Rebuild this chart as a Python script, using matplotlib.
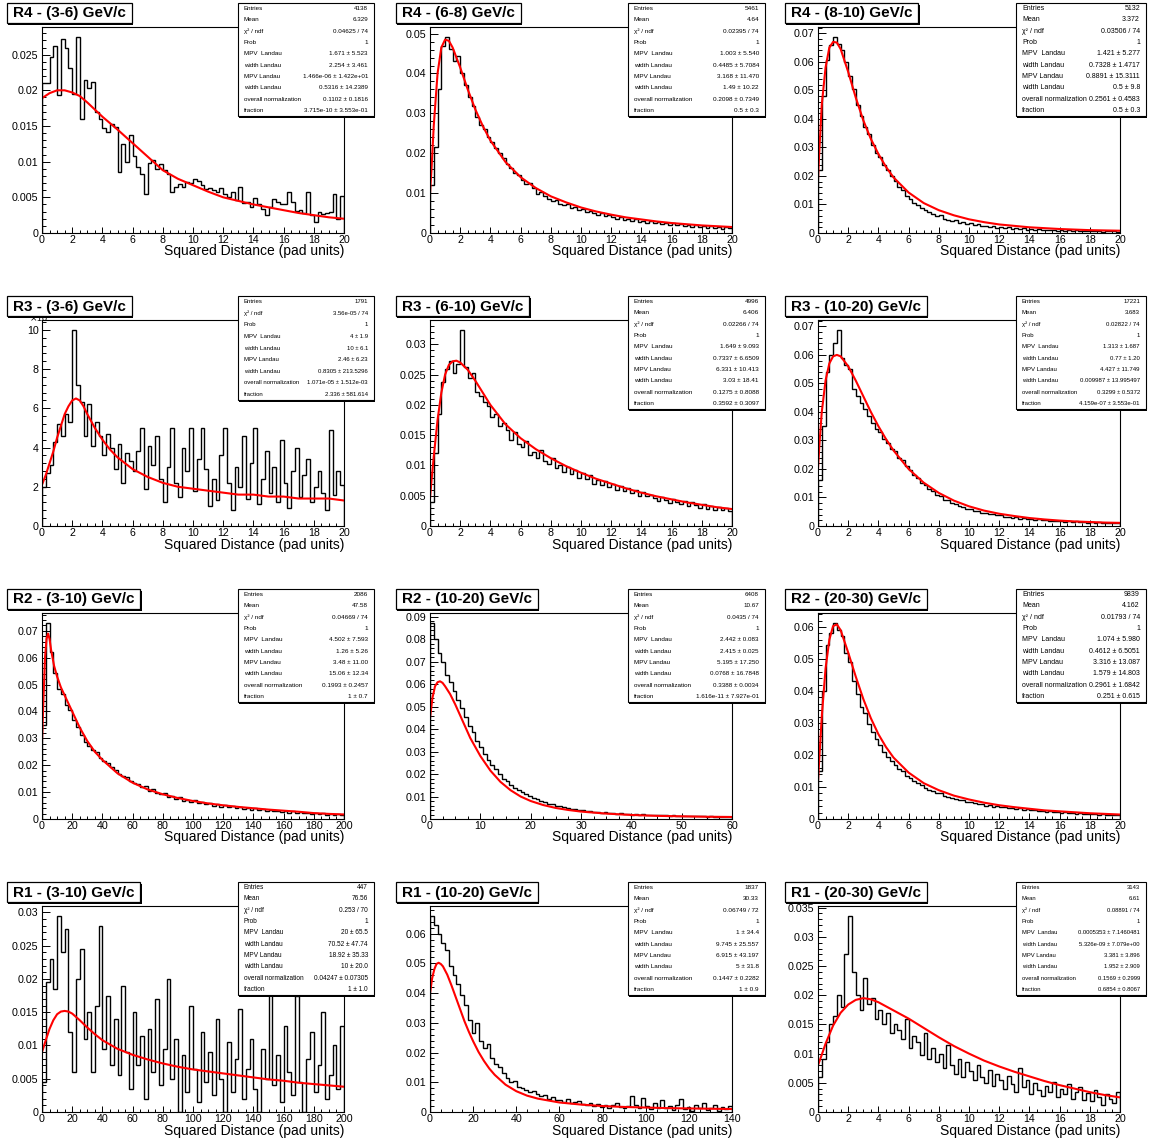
import matplotlib
matplotlib.use("Agg")
import matplotlib.pyplot as plt
import numpy as np
from matplotlib.patches import Rectangle
from matplotlib.ticker import MultipleLocator, FuncFormatter

plt.rcParams['font.family'] = ['Liberation Sans', 'DejaVu Sans']

W, H = 1151, 1140

# ---------------- histogram contents (80 bins per pad) ----------------
h_r4_3_6 = [0.0210, 0.0210, 0.0247, 0.0262, 0.0193, 0.0272, 0.0260, 0.0231, 0.0195, 0.0275,
            0.0160, 0.0214, 0.0203, 0.0212, 0.0170, 0.0160, 0.0147, 0.0141, 0.0153, 0.0148,
            0.0085, 0.0125, 0.0100, 0.0137, 0.0108, 0.0093, 0.0083, 0.0055, 0.0098, 0.0102,
            0.0090, 0.0097, 0.0088, 0.0082, 0.0058, 0.0065, 0.0068, 0.0064, 0.0072, 0.0070,
            0.0075, 0.0073, 0.0067, 0.0062, 0.0063, 0.0060, 0.0058, 0.0063, 0.0055, 0.0050,
            0.0058, 0.0046, 0.0064, 0.0042, 0.0044, 0.0036, 0.0049, 0.0040, 0.0034, 0.0025,
            0.0037, 0.0048, 0.0043, 0.0040, 0.0040, 0.0058, 0.0043, 0.0031, 0.0032, 0.0028,
            0.0058, 0.0025, 0.0015, 0.0030, 0.0026, 0.0028, 0.0029, 0.0055, 0.0020, 0.0052]

h_r4_6_8 = [0.0120, 0.0215, 0.0360, 0.0470, 0.0492, 0.0462, 0.0432, 0.0445, 0.0400, 0.0372,
            0.0342, 0.0318, 0.0292, 0.0272, 0.0262, 0.0240, 0.0228, 0.0212, 0.0200, 0.0188,
            0.0172, 0.0162, 0.0150, 0.0146, 0.0132, 0.0123, 0.0126, 0.0112, 0.0098, 0.0103,
            0.0094, 0.0086, 0.0081, 0.0084, 0.0072, 0.0070, 0.0073, 0.0062, 0.0066, 0.0058,
            0.0060, 0.0052, 0.0055, 0.0049, 0.0046, 0.0050, 0.0042, 0.0044, 0.0040, 0.0036,
            0.0039, 0.0033, 0.0036, 0.0030, 0.0034, 0.0028, 0.0031, 0.0026, 0.0029, 0.0024,
            0.0027, 0.0022, 0.0025, 0.0020, 0.0024, 0.0019, 0.0022, 0.0018, 0.0021, 0.0016,
            0.0019, 0.0015, 0.0018, 0.0013, 0.0017, 0.0012, 0.0016, 0.0011, 0.0014, 0.0012]

h_r4_8_10 = [0.0220, 0.0480, 0.0605, 0.0660, 0.0688, 0.0662, 0.0640, 0.0598, 0.0550, 0.0505,
             0.0450, 0.0412, 0.0372, 0.0348, 0.0310, 0.0282, 0.0268, 0.0238, 0.0222, 0.0200,
             0.0182, 0.0162, 0.0150, 0.0128, 0.0120, 0.0104, 0.0098, 0.0086, 0.0080, 0.0072,
             0.0066, 0.0058, 0.0062, 0.0050, 0.0047, 0.0042, 0.0046, 0.0036, 0.0038, 0.0032,
             0.0034, 0.0028, 0.0030, 0.0024, 0.0026, 0.0022, 0.0025, 0.0019, 0.0021, 0.0017,
             0.0020, 0.0015, 0.0018, 0.0014, 0.0016, 0.0012, 0.0015, 0.0011, 0.0013, 0.0010,
             0.0012, 0.0009, 0.0011, 0.0008, 0.0010, 0.0008, 0.0009, 0.0007, 0.0009, 0.0006,
             0.0008, 0.0007, 0.0008, 0.0006, 0.0007, 0.0005, 0.0007, 0.0006, 0.0006, 0.0005]

h_r3_3_6 = [0.0020, 0.0027, 0.0031, 0.0043, 0.0052, 0.0046, 0.0057, 0.0053, 0.0100, 0.0072,
            0.0063, 0.0046, 0.0062, 0.0041, 0.0053, 0.0046, 0.0036, 0.0047, 0.0040, 0.0029,
            0.0042, 0.0022, 0.0037, 0.0033, 0.0028, 0.0038, 0.0050, 0.0019, 0.0041, 0.0031,
            0.0046, 0.0024, 0.0012, 0.0030, 0.0050, 0.0022, 0.0015, 0.0040, 0.0028, 0.0050,
            0.0018, 0.0034, 0.0050, 0.0029, 0.0010, 0.0024, 0.0013, 0.0036, 0.0050, 0.0022,
            0.0008, 0.0030, 0.0020, 0.0046, 0.0014, 0.0032, 0.0050, 0.0011, 0.0024, 0.0038,
            0.0017, 0.0030, 0.0012, 0.0044, 0.0022, 0.0009, 0.0028, 0.0040, 0.0015, 0.0026,
            0.0034, 0.0012, 0.0020, 0.0028, 0.0017, 0.0008, 0.0049, 0.0016, 0.0028, 0.0021]

h_r3_6_10 = [0.0040, 0.0120, 0.0185, 0.0238, 0.0260, 0.0272, 0.0252, 0.0268, 0.0324, 0.0262,
             0.0245, 0.0252, 0.0222, 0.0215, 0.0205, 0.0198, 0.0180, 0.0185, 0.0165, 0.0170,
             0.0158, 0.0142, 0.0156, 0.0136, 0.0130, 0.0140, 0.0118, 0.0122, 0.0112, 0.0125,
             0.0108, 0.0102, 0.0112, 0.0095, 0.0100, 0.0090, 0.0098, 0.0086, 0.0092, 0.0080,
             0.0088, 0.0078, 0.0084, 0.0070, 0.0076, 0.0068, 0.0074, 0.0064, 0.0070, 0.0060,
             0.0066, 0.0058, 0.0062, 0.0054, 0.0060, 0.0050, 0.0056, 0.0049, 0.0052, 0.0046,
             0.0041, 0.0048, 0.0043, 0.0038, 0.0045, 0.0040, 0.0036, 0.0042, 0.0033, 0.0039,
             0.0035, 0.0030, 0.0036, 0.0028, 0.0033, 0.0026, 0.0031, 0.0027, 0.0029, 0.0024]

h_r3_10_20 = [0.0160, 0.0350, 0.0540, 0.0600, 0.0640, 0.0688, 0.0590, 0.0565, 0.0550, 0.0480,
              0.0455, 0.0430, 0.0410, 0.0385, 0.0362, 0.0340, 0.0330, 0.0305, 0.0292, 0.0270,
              0.0262, 0.0240, 0.0232, 0.0212, 0.0198, 0.0180, 0.0170, 0.0152, 0.0145, 0.0128,
              0.0122, 0.0108, 0.0104, 0.0092, 0.0090, 0.0080, 0.0078, 0.0070, 0.0068, 0.0061,
              0.0060, 0.0053, 0.0053, 0.0047, 0.0047, 0.0042, 0.0042, 0.0037, 0.0037, 0.0033,
              0.0033, 0.0029, 0.0030, 0.0026, 0.0027, 0.0024, 0.0025, 0.0022, 0.0023, 0.0020,
              0.0021, 0.0018, 0.0019, 0.0017, 0.0018, 0.0015, 0.0017, 0.0014, 0.0016, 0.0013,
              0.0015, 0.0012, 0.0014, 0.0011, 0.0013, 0.0011, 0.0012, 0.0010, 0.0011, 0.0009]

h_r2_3_10 = [0.0350, 0.0730, 0.0620, 0.0545, 0.0485, 0.0465, 0.0425, 0.0405, 0.0368, 0.0342,
             0.0312, 0.0285, 0.0272, 0.0258, 0.0250, 0.0228, 0.0215, 0.0208, 0.0192, 0.0182,
             0.0168, 0.0160, 0.0158, 0.0142, 0.0135, 0.0130, 0.0118, 0.0122, 0.0105, 0.0110,
             0.0098, 0.0092, 0.0096, 0.0082, 0.0085, 0.0075, 0.0080, 0.0068, 0.0072, 0.0064,
             0.0070, 0.0058, 0.0062, 0.0055, 0.0060, 0.0050, 0.0054, 0.0046, 0.0051, 0.0044,
             0.0048, 0.0040, 0.0045, 0.0038, 0.0042, 0.0034, 0.0040, 0.0032, 0.0036, 0.0030,
             0.0034, 0.0029, 0.0031, 0.0026, 0.0030, 0.0024, 0.0028, 0.0022, 0.0026, 0.0021,
             0.0024, 0.0019, 0.0023, 0.0018, 0.0021, 0.0016, 0.0019, 0.0015, 0.0017, 0.0014]

h_r2_10_20 = [0.0872, 0.0800, 0.0740, 0.0700, 0.0640, 0.0610, 0.0570, 0.0530, 0.0495, 0.0455,
              0.0415, 0.0385, 0.0345, 0.0318, 0.0290, 0.0262, 0.0238, 0.0222, 0.0200, 0.0180,
              0.0168, 0.0150, 0.0140, 0.0128, 0.0118, 0.0110, 0.0102, 0.0092, 0.0088, 0.0080,
              0.0075, 0.0068, 0.0066, 0.0060, 0.0058, 0.0052, 0.0050, 0.0046, 0.0045, 0.0040,
              0.0040, 0.0036, 0.0035, 0.0032, 0.0032, 0.0028, 0.0030, 0.0026, 0.0027, 0.0024,
              0.0025, 0.0022, 0.0024, 0.0020, 0.0022, 0.0019, 0.0021, 0.0018, 0.0019, 0.0017,
              0.0018, 0.0016, 0.0017, 0.0015, 0.0016, 0.0014, 0.0015, 0.0013, 0.0014, 0.0013,
              0.0013, 0.0012, 0.0013, 0.0011, 0.0012, 0.0010, 0.0011, 0.0010, 0.0010, 0.0009]

h_r2_20_30 = [0.0150, 0.0400, 0.0545, 0.0580, 0.0613, 0.0590, 0.0572, 0.0520, 0.0492, 0.0430,
              0.0392, 0.0350, 0.0330, 0.0298, 0.0272, 0.0250, 0.0232, 0.0210, 0.0195, 0.0180,
              0.0170, 0.0155, 0.0150, 0.0135, 0.0128, 0.0118, 0.0112, 0.0105, 0.0098, 0.0092,
              0.0088, 0.0082, 0.0080, 0.0072, 0.0070, 0.0066, 0.0064, 0.0058, 0.0060, 0.0054,
              0.0052, 0.0050, 0.0046, 0.0048, 0.0042, 0.0044, 0.0039, 0.0041, 0.0036, 0.0038,
              0.0034, 0.0035, 0.0031, 0.0033, 0.0028, 0.0030, 0.0027, 0.0028, 0.0024, 0.0026,
              0.0023, 0.0025, 0.0021, 0.0022, 0.0019, 0.0021, 0.0018, 0.0020, 0.0017, 0.0018,
              0.0016, 0.0017, 0.0015, 0.0016, 0.0014, 0.0015, 0.0013, 0.0014, 0.0012, 0.0013]

h_r1_3_10 = [0.0045, 0.0195, 0.0230, 0.0185, 0.0295, 0.0240, 0.0275, 0.0120, 0.0060, 0.0200,
             0.0245, 0.0110, 0.0150, 0.0060, 0.0160, 0.0280, 0.0095, 0.0175, 0.0070, 0.0140,
             0.0055, 0.0190, 0.0090, 0.0035, 0.0150, 0.0070, 0.0115, 0.0020, 0.0125, 0.0060,
             0.0170, 0.0040, 0.0095, 0.0200, 0.0050, 0.0110, 0.0000, 0.0085, 0.0030, 0.0160,
             0.0065, 0.0015, 0.0120, 0.0045, 0.0090, 0.0025, 0.0140, 0.0050, 0.0000, 0.0105,
             0.0030, 0.0080, 0.0155, 0.0020, 0.0065, 0.0110, 0.0035, 0.0000, 0.0095, 0.0050,
             0.0195, 0.0040, 0.0085, 0.0015, 0.0130, 0.0060, 0.0025, 0.0175, 0.0045, 0.0000,
             0.0080, 0.0120, 0.0030, 0.0070, 0.0150, 0.0020, 0.0055, 0.0100, 0.0035, 0.0130]

h_r1_10_20 = [0.0660, 0.0630, 0.0600, 0.0570, 0.0545, 0.0490, 0.0460, 0.0430, 0.0395, 0.0360,
              0.0310, 0.0265, 0.0300, 0.0240, 0.0215, 0.0230, 0.0180, 0.0160, 0.0150, 0.0130,
              0.0115, 0.0100, 0.0105, 0.0085, 0.0080, 0.0075, 0.0068, 0.0072, 0.0060, 0.0055,
              0.0058, 0.0045, 0.0050, 0.0040, 0.0042, 0.0035, 0.0044, 0.0030, 0.0032, 0.0038,
              0.0028, 0.0025, 0.0030, 0.0020, 0.0026, 0.0018, 0.0024, 0.0015, 0.0022, 0.0030,
              0.0018, 0.0012, 0.0020, 0.0055, 0.0025, 0.0015, 0.0048, 0.0020, 0.0010, 0.0030,
              0.0015, 0.0042, 0.0012, 0.0020, 0.0008, 0.0025, 0.0045, 0.0010, 0.0018, 0.0005,
              0.0022, 0.0012, 0.0030, 0.0008, 0.0015, 0.0025, 0.0005, 0.0018, 0.0010, 0.0020]

h_r1_20_30 = [0.0060, 0.0090, 0.0120, 0.0150, 0.0165, 0.0200, 0.0180, 0.0270, 0.0336, 0.0240,
              0.0200, 0.0175, 0.0230, 0.0185, 0.0195, 0.0160, 0.0175, 0.0150, 0.0170, 0.0135,
              0.0150, 0.0140, 0.0125, 0.0160, 0.0110, 0.0130, 0.0120, 0.0098, 0.0135, 0.0090,
              0.0110, 0.0085, 0.0100, 0.0075, 0.0115, 0.0080, 0.0065, 0.0090, 0.0060, 0.0085,
              0.0070, 0.0055, 0.0080, 0.0060, 0.0050, 0.0072, 0.0045, 0.0065, 0.0055, 0.0040,
              0.0062, 0.0048, 0.0035, 0.0075, 0.0042, 0.0055, 0.0030, 0.0050, 0.0038, 0.0028,
              0.0045, 0.0035, 0.0052, 0.0025, 0.0040, 0.0030, 0.0048, 0.0022, 0.0035, 0.0042,
              0.0020, 0.0032, 0.0018, 0.0038, 0.0025, 0.0012, 0.0030, 0.0022, 0.0015, 0.0035]

# ---------------- fitted curves (sampled points) ----------------
fx_r4_3_6 = [0, 0.5, 1, 1.5, 2, 2.5, 3, 3.5, 4, 5, 6, 7, 8, 9, 10, 11, 12, 13, 14, 15, 16, 17, 18, 19, 20]
fy_r4_3_6 = [0.0189, 0.0196, 0.0200, 0.0200, 0.0197, 0.0192, 0.0183, 0.0173, 0.0163, 0.0145, 0.0126,
             0.0107, 0.0088, 0.0076, 0.0067, 0.0058, 0.0050, 0.0045, 0.0040, 0.0036, 0.0032, 0.0028,
             0.0025, 0.0022, 0.0020]

fx_r4_6_8 = [0, 0.1, 0.25, 0.5, 0.75, 1.0, 1.25, 1.5, 2, 2.5, 3, 3.5, 4, 5, 6, 7, 8, 9, 10,
             11, 12, 13, 14, 15, 16, 17, 18, 19, 20]
fy_r4_6_8 = [0.0100, 0.0160, 0.0270, 0.0400, 0.0465, 0.0485, 0.0482, 0.0465, 0.0415, 0.0360, 0.0310,
             0.0268, 0.0232, 0.0178, 0.0140, 0.0113, 0.0092, 0.0077, 0.0064, 0.0054, 0.0046, 0.0039,
             0.0034, 0.0029, 0.0025, 0.0022, 0.0019, 0.0017, 0.0015]

fx_r4_8_10 = [0, 0.1, 0.25, 0.5, 0.75, 1.0, 1.25, 1.5, 2, 2.5, 3, 3.5, 4, 4.5, 5, 6, 7, 8, 9, 10,
              11, 12, 13, 14, 15, 16, 17, 18, 19, 20]
fy_r4_8_10 = [0.0190, 0.0300, 0.0450, 0.0580, 0.0650, 0.0670, 0.0668, 0.0645, 0.0565, 0.0475, 0.0395,
              0.0330, 0.0277, 0.0232, 0.0195, 0.0142, 0.0105, 0.0080, 0.0062, 0.0048, 0.0038, 0.0030,
              0.0025, 0.0020, 0.0017, 0.0014, 0.0012, 0.0010, 0.0009, 0.0008]

fx_r3_3_6 = [0, 0.25, 0.5, 0.75, 1, 1.25, 1.5, 1.75, 2, 2.25, 2.5, 2.75, 3, 3.5, 4, 4.5, 5, 6, 7, 8,
             9, 10, 11, 12, 13, 14, 15, 16, 17, 18, 19, 20]
fy_r3_3_6 = [0.0021, 0.0026, 0.0032, 0.0038, 0.0045, 0.0051, 0.0057, 0.0061, 0.0064, 0.0065, 0.0064,
             0.0061, 0.0057, 0.0050, 0.0044, 0.0039, 0.0035, 0.0029, 0.0025, 0.0022, 0.0020, 0.0019,
             0.0018, 0.0017, 0.0016, 0.0016, 0.0015, 0.0015, 0.0014, 0.0014, 0.0014, 0.0013]

fx_r3_6_10 = [0, 0.1, 0.25, 0.5, 0.75, 1, 1.25, 1.5, 1.75, 2, 2.5, 3, 3.5, 4, 5, 6, 7, 8, 9, 10,
              11, 12, 13, 14, 15, 16, 17, 18, 19, 20]
fy_r3_6_10 = [0.0045, 0.0075, 0.0115, 0.0175, 0.0220, 0.0250, 0.0266, 0.0272, 0.0273, 0.0270, 0.0258,
              0.0240, 0.0220, 0.0200, 0.0168, 0.0145, 0.0127, 0.0112, 0.0099, 0.0088, 0.0078, 0.0070,
              0.0062, 0.0055, 0.0049, 0.0044, 0.0039, 0.0035, 0.0031, 0.0028]

fx_r3_10_20 = [0, 0.1, 0.25, 0.5, 0.75, 1, 1.25, 1.5, 2, 2.5, 3, 3.5, 4, 4.5, 5, 6, 7, 8, 9, 10,
               11, 12, 13, 14, 15, 16, 17, 18, 19, 20]
fy_r3_10_20 = [0.0200, 0.0290, 0.0400, 0.0510, 0.0570, 0.0595, 0.0600, 0.0595, 0.0560, 0.0510, 0.0455,
               0.0400, 0.0350, 0.0305, 0.0265, 0.0200, 0.0152, 0.0116, 0.0089, 0.0069, 0.0054, 0.0043,
               0.0035, 0.0028, 0.0023, 0.0019, 0.0016, 0.0014, 0.0012, 0.0011]

fx_r2_3_10 = [0, 1, 2, 3, 4, 5, 6, 8, 10, 12.5, 15, 20, 25, 30, 35, 40, 50, 60, 70, 80, 90, 100,
              110, 120, 130, 140, 150, 160, 170, 180, 190, 200]
fy_r2_3_10 = [0.0290, 0.0450, 0.0600, 0.0670, 0.0690, 0.0670, 0.0630, 0.0570, 0.0530, 0.0490, 0.0460,
              0.0400, 0.0340, 0.0290, 0.0250, 0.0220, 0.0170, 0.0135, 0.0110, 0.0092, 0.0078, 0.0067,
              0.0058, 0.0051, 0.0045, 0.0040, 0.0035, 0.0031, 0.0027, 0.0022, 0.0019, 0.0017]

fx_r2_10_20 = [0, 0.5, 1, 1.5, 2, 2.5, 3, 4, 5, 6, 7, 8, 9, 10, 12, 14, 16, 18, 20, 22.5, 25, 27.5,
               30, 35, 40, 45, 50, 55, 60]
fy_r2_10_20 = [0.0450, 0.0540, 0.0590, 0.0608, 0.0612, 0.0605, 0.0590, 0.0555, 0.0510, 0.0460, 0.0410,
               0.0360, 0.0320, 0.0280, 0.0215, 0.0165, 0.0128, 0.0100, 0.0080, 0.0062, 0.0049, 0.0040,
               0.0033, 0.0024, 0.0018, 0.0014, 0.0012, 0.0010, 0.0009]

fx_r2_20_30 = [0, 0.1, 0.25, 0.5, 0.75, 1, 1.25, 1.5, 2, 2.5, 3, 3.5, 4, 4.5, 5, 6, 7, 8, 9, 10,
               11, 12, 13, 14, 15, 16, 17, 18, 19, 20]
fy_r2_20_30 = [0.0120, 0.0200, 0.0320, 0.0470, 0.0560, 0.0603, 0.0608, 0.0590, 0.0520, 0.0445, 0.0375,
               0.0315, 0.0265, 0.0225, 0.0192, 0.0145, 0.0112, 0.0090, 0.0073, 0.0061, 0.0051, 0.0043,
               0.0037, 0.0032, 0.0027, 0.0024, 0.0021, 0.0018, 0.0016, 0.0014]

fx_r1_3_10 = [0, 2.5, 5, 7.5, 10, 12.5, 15, 17.5, 20, 25, 30, 35, 40, 50, 60, 70, 80, 90, 100,
              110, 120, 130, 140, 150, 160, 170, 180, 190, 200]
fy_r1_3_10 = [0.0090, 0.0108, 0.0125, 0.0138, 0.0147, 0.0151, 0.0152, 0.0151, 0.0148, 0.0138, 0.0127,
              0.0117, 0.0108, 0.0095, 0.0086, 0.0079, 0.0073, 0.0068, 0.0064, 0.0061, 0.0058, 0.0055,
              0.0052, 0.0049, 0.0047, 0.0044, 0.0042, 0.0040, 0.0038]

fx_r1_10_20 = [0, 1, 2, 3, 4, 5, 6, 8, 10, 12, 14, 16, 18, 20, 22.5, 25, 27.5, 30, 35, 40, 45, 50,
               60, 70, 80, 90, 100, 110, 120, 130, 140]
fy_r1_10_20 = [0.0400, 0.0450, 0.0480, 0.0498, 0.0502, 0.0498, 0.0490, 0.0462, 0.0425, 0.0385, 0.0345,
               0.0305, 0.0270, 0.0238, 0.0202, 0.0172, 0.0146, 0.0125, 0.0092, 0.0070, 0.0055, 0.0045,
               0.0032, 0.0025, 0.0020, 0.0017, 0.0015, 0.0013, 0.0012, 0.0011, 0.0010]

fx_r1_20_30 = [0, 0.25, 0.5, 1, 1.5, 2, 2.5, 3, 3.5, 4, 5, 6, 7, 8, 9, 10, 11, 12, 13, 14, 15, 16,
               17, 18, 19, 20]
fy_r1_20_30 = [0.0080, 0.0098, 0.0117, 0.0148, 0.0170, 0.0184, 0.0192, 0.0195, 0.0193, 0.0188, 0.0174,
               0.0160, 0.0144, 0.0128, 0.0113, 0.0100, 0.0088, 0.0078, 0.0069, 0.0061, 0.0053, 0.0046,
               0.0040, 0.0034, 0.0029, 0.0025]

# ---------------- fit statistics ----------------
names_full = ["Entries", "Mean", "χ² / ndf", "Prob", "MPV  Landau", "width Landau",
              "MPV Landau", "width Landau", "overall normalization", "fraction"]
names_nomean = [n for n in names_full if n != "Mean"]

st_r4_3_6 = ["4138", "6.329", "0.04625 / 74", "1", "1.671 ± 5.523", "2.254 ± 3.461",
             "1.466e-06 ± 1.422e+01", "0.5316 ± 14.2389", "0.1102 ± 0.1816", "3.715e-10 ± 3.553e-01"]
st_r4_6_8 = ["5461", "4.64", "0.02395 / 74", "1", "1.003 ± 5.540", "0.4485 ± 5.7084",
             "3.168 ± 11.470", "1.49 ± 10.22", "0.2098 ± 0.7349", "0.5 ± 0.3"]
st_r4_8_10 = ["5132", "3.372", "0.03506 / 74", "1", "1.421 ± 5.277", "0.7328 ± 1.4717",
              "0.8891 ± 15.3111", "0.5 ± 9.8", "0.2561 ± 0.4583", "0.5 ± 0.3"]
st_r3_3_6 = ["1791", "3.56e-05 / 74", "1", "4 ± 1.9", "10 ± 6.1",
             "2.46 ± 6.23", "0.8305 ± 213.5296", "1.071e-05 ± 1.512e-03", "2.336 ± 581.614"]
st_r3_6_10 = ["4996", "6.406", "0.02266 / 74", "1", "1.649 ± 9.093", "0.7337 ± 6.6509",
              "6.331 ± 10.413", "3.03 ± 18.41", "0.1275 ± 0.8088", "0.3592 ± 0.3097"]
st_r3_10_20 = ["17221", "3.683", "0.02822 / 74", "1", "1.313 ± 1.687", "0.77 ± 1.20",
               "4.427 ± 11.749", "0.009987 ± 13.995497", "0.3299 ± 0.5372", "4.159e-07 ± 3.553e-01"]
st_r2_3_10 = ["2086", "47.58", "0.04669 / 74", "1", "4.502 ± 7.593", "1.26 ± 5.26",
              "3.48 ± 11.00", "15.06 ± 12.34", "0.1993 ± 0.2457", "1 ± 0.7"]
st_r2_10_20 = ["6408", "10.67", "0.0435 / 74", "1", "2.442 ± 0.083", "2.415 ± 0.025",
               "5.195 ± 17.250", "0.0768 ± 16.7848", "0.3388 ± 0.0034", "1.616e-11 ± 7.927e-01"]
st_r2_20_30 = ["9839", "4.162", "0.01793 / 74", "1", "1.074 ± 5.980", "0.4612 ± 6.5051",
               "3.316 ± 13.087", "1.579 ± 14.803", "0.2961 ± 1.6842", "0.251 ± 0.615"]
st_r1_3_10 = ["447", "76.56", "0.253 / 70", "1", "20 ± 65.5", "70.52 ± 47.74",
              "18.92 ± 35.33", "10 ± 20.0", "0.04247 ± 0.07305", "1 ± 1.0"]
st_r1_10_20 = ["1837", "30.33", "0.06749 / 72", "1", "1 ± 34.4", "9.745 ± 25.557",
               "6.915 ± 43.197", "5 ± 31.8", "0.1447 ± 0.2282", "1 ± 0.9"]
st_r1_20_30 = ["3143", "6.61", "0.08891 / 74", "1", "0.0005353 ± 7.1460481", "5.326e-09 ± 7.079e+00",
               "3.381 ± 3.896", "1.952 ± 2.909", "0.1569 ± 0.2999", "0.6854 ± 0.8067"]

# pads, row by row
pads = [
    dict(title="R4 - (3-6) GeV/c", h=h_r4_3_6, fx=fx_r4_3_6, fy=fy_r4_3_6, xmax=20, xmaj=2, ymaj=0.005,
         names=names_full, st=st_r4_3_6, fs=4.5),
    dict(title="R4 - (6-8) GeV/c", h=h_r4_6_8, fx=fx_r4_6_8, fy=fy_r4_6_8, xmax=20, xmaj=2, ymaj=0.01,
         names=names_full, st=st_r4_6_8, fs=4.6),
    dict(title="R4 - (8-10) GeV/c", h=h_r4_8_10, fx=fx_r4_8_10, fy=fy_r4_8_10, xmax=20, xmaj=2, ymaj=0.01,
         names=names_full, st=st_r4_8_10, fs=5.0),
    dict(title="R3 - (3-6) GeV/c", h=h_r3_3_6, fx=fx_r3_3_6, fy=fy_r3_3_6, xmax=20, xmaj=2, ymaj=0.002,
         names=names_nomean, st=st_r3_3_6, fs=4.3, yscale=1e3),
    dict(title="R3 - (6-10) GeV/c", h=h_r3_6_10, fx=fx_r3_6_10, fy=fy_r3_6_10, xmax=20, xmaj=2, ymaj=0.005,
         names=names_full, st=st_r3_6_10, fs=4.6),
    dict(title="R3 - (10-20) GeV/c", h=h_r3_10_20, fx=fx_r3_10_20, fy=fy_r3_10_20, xmax=20, xmaj=2, ymaj=0.01,
         names=names_full, st=st_r3_10_20, fs=4.3),
    dict(title="R2 - (3-10) GeV/c", h=h_r2_3_10, fx=fx_r2_3_10, fy=fy_r2_3_10, xmax=200, xmaj=20, ymaj=0.01,
         names=names_full, st=st_r2_3_10, fs=4.6),
    dict(title="R2 - (10-20) GeV/c", h=h_r2_10_20, fx=fx_r2_10_20, fy=fy_r2_10_20, xmax=60, xmaj=10, ymaj=0.01,
         names=names_full, st=st_r2_10_20, fs=4.5),
    dict(title="R2 - (20-30) GeV/c", h=h_r2_20_30, fx=fx_r2_20_30, fy=fy_r2_20_30, xmax=20, xmaj=2, ymaj=0.01,
         names=names_full, st=st_r2_20_30, fs=5.0),
    dict(title="R1 - (3-10) GeV/c", h=h_r1_3_10, fx=fx_r1_3_10, fy=fy_r1_3_10, xmax=200, xmaj=20, ymaj=0.005,
         names=names_full, st=st_r1_3_10, fs=4.7),
    dict(title="R1 - (10-20) GeV/c", h=h_r1_10_20, fx=fx_r1_10_20, fy=fy_r1_10_20, xmax=140, xmaj=20, ymaj=0.01,
         names=names_full, st=st_r1_10_20, fs=4.6),
    dict(title="R1 - (20-30) GeV/c", h=h_r1_20_30, fx=fx_r1_20_30, fy=fy_r1_20_30, xmax=20, xmaj=2, ymaj=0.005,
         names=names_full, st=st_r1_20_30, fs=4.2),
]

fig = plt.figure(figsize=(W / 100, H / 100), dpi=100)

# overlay in pixel coordinates (y down) for title and stat boxes
over = fig.add_axes([0, 0, 1, 1], zorder=10)
over.set_xlim(0, W)
over.set_ylim(H, 0)
over.axis('off')

stat_x = [(238, 374), (628, 765), (1016, 1146)]
renderer = fig.canvas.get_renderer()

for k, p in enumerate(pads):
    r, c = divmod(k, 3)
    x0 = 42 + 388 * c
    y0 = 27 + 293 * r
    ax = fig.add_axes([x0 / W, 1 - (y0 + 206) / H, 302 / W, 206 / H])

    edges = np.linspace(0, p['xmax'], len(p['h']) + 1)
    ax.stairs(p['h'], edges, color='black', lw=1.0)
    ax.plot(p['fx'], p['fy'], color='#ff0000', lw=1.5)
    ax.set_xlim(0, p['xmax'])
    ax.set_ylim(0, 1.05 * max(p['h']))

    ax.xaxis.set_major_locator(MultipleLocator(p['xmaj']))
    ax.xaxis.set_minor_locator(MultipleLocator(p['xmaj'] / 4))
    ax.yaxis.set_major_locator(MultipleLocator(p['ymaj']))
    ax.yaxis.set_minor_locator(MultipleLocator(p['ymaj'] / 5))
    ax.xaxis.set_major_formatter(FuncFormatter(lambda v, pos: '%g' % round(v, 6)))
    s = p.get('yscale', 1)
    ax.yaxis.set_major_formatter(FuncFormatter(lambda v, pos, s=s: '%g' % round(v * s, 6)))
    ax.tick_params(which='both', direction='in', top=False, right=False, labelsize=7.7, width=0.7)
    ax.tick_params(axis='y', which='major', length=5.5, pad=2.5)
    ax.tick_params(axis='y', which='minor', length=2.8)
    ax.tick_params(axis='x', which='major', length=4.5, pad=1.5)
    ax.tick_params(axis='x', which='minor', length=2.3)
    for sp in ax.spines.values():
        sp.set_linewidth(0.8)

    over.text(x0 + 302, 255.5 + 293 * r, "Squared Distance (pad units)", fontsize=10,
              ha='right', va='baseline')

    # exponent of the y axis, partly tucked under the title box
    if s != 1:
        over.text(29, y0 + 2, r"$\times$10$^{-3}$", fontsize=6.5, ha='left', va='baseline', zorder=5)

    # title box
    tx = 7 + 389 * c
    ty = 3 + 293 * r
    t = over.text(tx + 6, ty + 10.5, p['title'], fontsize=11, fontweight='bold',
                  ha='left', va='center', zorder=32)
    tw = t.get_window_extent(renderer).width
    over.add_patch(Rectangle((tx + 1.5, ty + 1.5), tw + 12, 20, fc='black', ec='none', zorder=30))
    over.add_patch(Rectangle((tx, ty), tw + 12, 20, fc='white', ec='black', lw=0.9, zorder=31))

    # stat box
    bx0, bx1 = stat_x[c]
    n = len(p['names'])
    by0 = 3 + 293 * r
    by1 = by0 + (113 if n == 10 else 104)
    over.add_patch(Rectangle((bx0 + 1.5, by0 + 1.5), bx1 - bx0, by1 - by0, fc='black', ec='none', zorder=20))
    over.add_patch(Rectangle((bx0, by0), bx1 - bx0, by1 - by0, fc='white', ec='black', lw=0.8, zorder=21))
    step = (by1 - by0) / n
    for i, (nm, val) in enumerate(zip(p['names'], p['st'])):
        yy = by0 + step * (i + 0.5)
        over.text(bx0 + 6, yy, nm, fontsize=p['fs'], ha='left', va='center', zorder=22)
        over.text(bx1 - 6, yy, val, fontsize=p['fs'], ha='right', va='center', zorder=22)

fig.savefig("out.png", dpi=100)
